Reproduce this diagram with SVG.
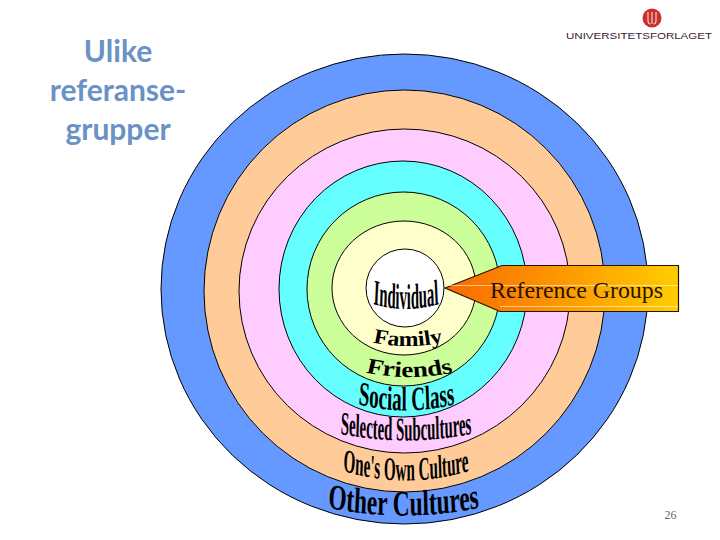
<svg xmlns="http://www.w3.org/2000/svg" width="720" height="540" viewBox="0 0 720 540">
<style>
.r{stroke:#000;stroke-width:1}
.w{font-family:"Liberation Serif",serif;font-weight:bold;fill:#000;text-anchor:middle}
.t{font-family:Lato,"Open Sans",sans-serif;font-size:30px;font-weight:bold;fill:#6a92c4;text-anchor:middle}
</style>
<defs>
<linearGradient id="g" x1="0" y1="0" x2="1" y2="0">
<stop offset="0" stop-color="#f96a00"/><stop offset="0.35" stop-color="#fb8a00"/><stop offset="1" stop-color="#ffcc00"/>
</linearGradient>
<path id="p1" d="M-95 302Q0 316 95 302"/>
<path id="p2" d="M-36 341.500Q0 350.500 36 341.500"/>
<path id="p3" d="M-42 371Q0 383 42 371"/>
<path id="p4" d="M-100 402Q0 419 100 402"/>
<path id="p5" d="M-165 432Q0 449 165 432"/>
<path id="p6" d="M-150 469Q0 492 150 469"/>
<path id="p7" d="M-130 506Q0 525 130 506"/>
</defs>
<rect width="720" height="540" fill="#fff"/>
<g id="title">
<text class="t" x="118" y="62">Ulike</text>
<text class="t" x="118" y="101">referanse-</text>
<text class="t" x="118" y="140">grupper</text>
</g>
<g id="logo">
<circle cx="652" cy="18" r="9.500" fill="#c9302c"/>
<path d="M648 12V20Q648 24 650.500 24M652 12V24M656 12V20Q656 24 653.500 24" fill="none" stroke="#f3d0cc" stroke-width="1.200"/>
<text x="566" y="39" font-family="Liberation Sans,sans-serif" font-size="9.500" fill="#3a2230" textLength="146" lengthAdjust="spacingAndGlyphs">UNIVERSITETSFORLAGET</text>
</g>
<g id="rings">
<ellipse id="other-cultures" class="r" cx="404.500" cy="289" rx="243.500" ry="235" fill="#6699ff"/>
<ellipse id="own-culture" class="r" cx="404.500" cy="291" rx="200.500" ry="201" fill="#ffcc99"/>
<ellipse id="subcultures" class="r" cx="404.500" cy="291" rx="165.500" ry="162" fill="#ffccff"/>
<ellipse id="social-class" class="r" cx="403" cy="289" rx="124" ry="128" fill="#66ffff"/>
<ellipse id="friends" class="r" cx="403.500" cy="289" rx="96.500" ry="97" fill="#ccff99"/>
<ellipse id="family" class="r" cx="404" cy="288" rx="72" ry="67" fill="#ffffcc"/>
<ellipse id="individual" class="r" cx="405" cy="288" rx="39" ry="39" fill="#fff"/>
</g>
<g id="labels">
<text class="w" font-size="36" transform="translate(406 0) scale(.41 1)"><textPath href="#p1" startOffset="50%">Individual</textPath></text>
<text class="w" font-size="21" transform="translate(408 0) scale(1.130 1)"><textPath href="#p2" startOffset="50%">Family</textPath></text>
<text class="w" font-size="22" transform="translate(409.500 0) scale(1.230 1)"><textPath href="#p3" startOffset="50%">Friends</textPath></text>
<text class="w" font-size="34" transform="translate(406.500 0) scale(.56 1)"><textPath href="#p4" startOffset="50%">Social Class</textPath></text>
<text class="w" font-size="33" transform="translate(406 0) scale(.45 1)"><textPath href="#p5" startOffset="50%">Selected Subcultures</textPath></text>
<text class="w" font-size="33" transform="translate(406 0) scale(.46 1)"><textPath href="#p6" startOffset="50%">One's Own Culture</textPath></text>
<text class="w" font-size="36" transform="translate(403.500 0) scale(.65 1)"><textPath href="#p7" startOffset="50%">Other Cultures</textPath></text>
</g>
<g id="reference-groups">
<polygon points="445,288 502,265.500 678.500,265.500 678.500,311.500 500,311.500" fill="url(#g)" stroke="#2a1200" stroke-width="1.200"/>
<path d="M447 285.500H678M500 306.500H678" stroke="#fff" stroke-opacity=".55" stroke-width="1" fill="none"/>
<text x="576.500" y="298" font-family="Liberation Serif,serif" font-size="24" fill="#2a1200" text-anchor="middle" textLength="173" lengthAdjust="spacingAndGlyphs">Reference Groups</text>
</g>
<text id="page" x="670.500" y="519" font-family="Liberation Serif,serif" font-size="12" fill="#666" text-anchor="middle">26</text>
</svg>
